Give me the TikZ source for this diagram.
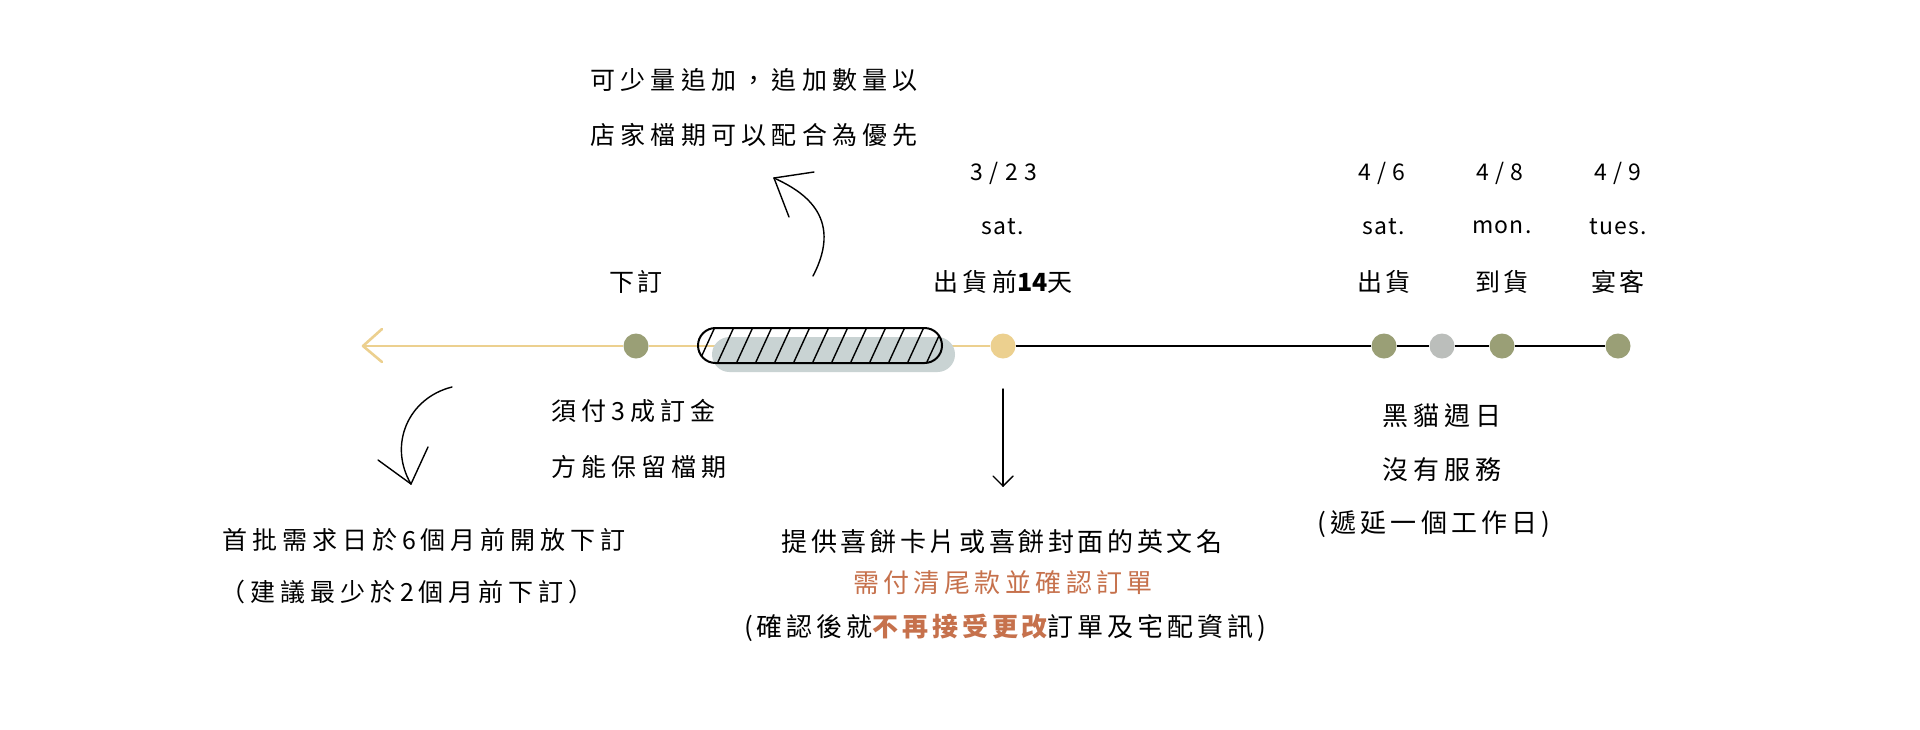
\documentclass[tikz,border=0pt]{standalone}
\usepackage{fontspec}
\setmainfont{Noto Sans CJK TC}
\definecolor{cOlive}{HTML}{9A9F76}
\definecolor{cYellow}{HTML}{ECD08F}
\definecolor{cGreyDot}{HTML}{BBBEBB}
\definecolor{cShadow}{HTML}{C9D3D3}
\definecolor{cOrange}{HTML}{C6714C}
\newcommand\setf[2]{\fontsize{#1}{#1}\selectfont\addfontfeature{LetterSpace=#2}}
\begin{document}
\begin{tikzpicture}[x=1pt,y=-1pt,
  dot/.style={circle,minimum size=25pt,inner sep=0pt},
  lbl/.style={inner sep=0pt},
  rowf/.style={lbl,font=\setf{25}{9}},
  latf/.style={lbl,font=\setf{23}{5}},
  thinarrow/.style={line width=1.4pt,line cap=round,line join=round}]
\useasboundingbox[fill=white] (0,0) rectangle (1920,729);

% timeline dots
\node[dot,fill=cOlive]   (d1) at (636,346) {};
\node[dot,fill=cYellow]  (d2) at (1003,346) {};
\node[dot,fill=cOlive]   (d3) at (1384,346) {};
\node[dot,fill=cGreyDot] (d4) at (1442,346) {};
\node[dot,fill=cOlive]   (d5) at (1502,346) {};
\node[dot,fill=cOlive]   (d6) at (1618,346) {};
\coordinate (tip) at (363,346);

% yellow part with open arrow head
\draw[cYellow,line width=2.8pt] (tip) -- (d1);
\draw[cYellow,line width=2.8pt] (d1) -- (d2);
\draw[cYellow,line width=2.6pt,line cap=round,line join=round]
  (tip) ++(19,-17) -- (tip) -- ++(19,16);
% black part
\draw[black,line width=1.3pt] (d2) -- (d3);
\draw[black,line width=1.3pt] (d3) -- (d4);
\draw[black,line width=1.3pt] (d4) -- (d5);
\draw[black,line width=1.3pt] (d5) -- (d6);

% hatched bar with shadow
\fill[cShadow,rounded corners=17.5pt] (712,337) rectangle (955,372);
\begin{scope}
  \clip[rounded corners=17.5pt] (698,328) rectangle (942,363);
  \foreach \k in {0,...,13} {
    \draw[line width=1.4pt] ({715+19*\k},327) -- ({715+19*\k-17},364);
  }
\end{scope}
\draw[line width=2pt,rounded corners=17.5pt] (698,328) rectangle (942,363);

% curved arrow up (towards top note)
\coordinate (ua0) at (813,276);
\coordinate (ua1) at (774,178);
\draw[thinarrow] (ua0) .. controls (845,215) and (800,190) .. (ua1);
\draw[thinarrow] (ua1) -- ++(40,-6);
\draw[thinarrow] (ua1) -- ++(15,39);

% curved arrow down-left
\coordinate (da0) at (452,387);
\coordinate (da1) at (411,484);
\draw[thinarrow] (da0) .. controls (408,398) and (388,445) .. (da1);
\draw[thinarrow] (da1) -- ++(-33,-24);
\draw[thinarrow] (da1) -- ++(17,-37);

% straight arrow down
\coordinate (sa0) at (1003,389);
\coordinate (sa1) at (1003,486);
\draw[thinarrow] (sa0) -- (sa1);
\draw[thinarrow] (sa1) -- ++(-10,-10);
\draw[thinarrow] (sa1) -- ++(10,-10);

% top note
\node[lbl,font=\setf{25}{21}] (top1) at (754,80) {可少量追加，追加數量以};
\node[lbl,font=\setf{25}{21}] (top2) at (754,135) {店家檔期可以配合為優先};

% labels above timeline
\node[latf] (t323) at (1004,173) {3 / 2 3};
\node[latf] (s323) at (1003,227) {sat.};
\node[lbl,font=\setf{25}{19}] (l323) at (1003,282) {出貨前{\bfseries\addfontfeature{LetterSpace=0}14}天};
\node[rowf] (l1) at (636,282) {下訂};
\node[latf] (t46) at (1382,173) {4 / 6};
\node[latf] (s46) at (1384,227) {sat.};
\node[rowf] (l46) at (1384,282) {出貨};
\node[latf] (t48) at (1500,173) {4 / 8};
\node[latf] (s48) at (1502,227) {mon.};
\node[rowf] (l48) at (1502,282) {到貨};
\node[latf] (t49) at (1618,173) {4 / 9};
\node[latf] (s49) at (1618,227) {tues.};
\node[rowf] (l49) at (1618,282) {宴客};

% notes below timeline
\node[lbl,anchor=west,font=\setf{25}{20}] (dep1) at (551,411) {須付3成訂金};
\node[lbl,anchor=west,font=\setf{25}{20}] (dep2) at (551,467) {方能保留檔期};

\node[lbl,font=\setf{26}{18}] (cat1) at (1442,416) {黑貓週日};
\node[lbl,font=\setf{26}{18}] (cat2) at (1442,470) {沒有服務};
\node[lbl,font=\setf{26}{16}] (cat3) at (1434,524) {(遞延一個工作日)};

\node[lbl,font=\setf{25}{20}] (first1) at (424,540) {首批需求日於6個月前開放下訂};
\node[lbl,font=\setf{25}{20}] (first2) at (407,592) {（建議最少於2個月前下訂）};

\node[lbl,font=\setf{26}{14}] (card1) at (1002,542) {提供喜餅卡片或喜餅封面的英文名};
\node[lbl,font=\setf{26}{17},text=cOrange] (card2) at (1003,583) {需付清尾款並確認訂單};
\node[lbl,font=\setf{26}{15}] (card3) at (1005,628) {(確認後就{\bfseries\color{cOrange}不再接受更改}訂單及宅配資訊)};
\end{tikzpicture}
\end{document}
